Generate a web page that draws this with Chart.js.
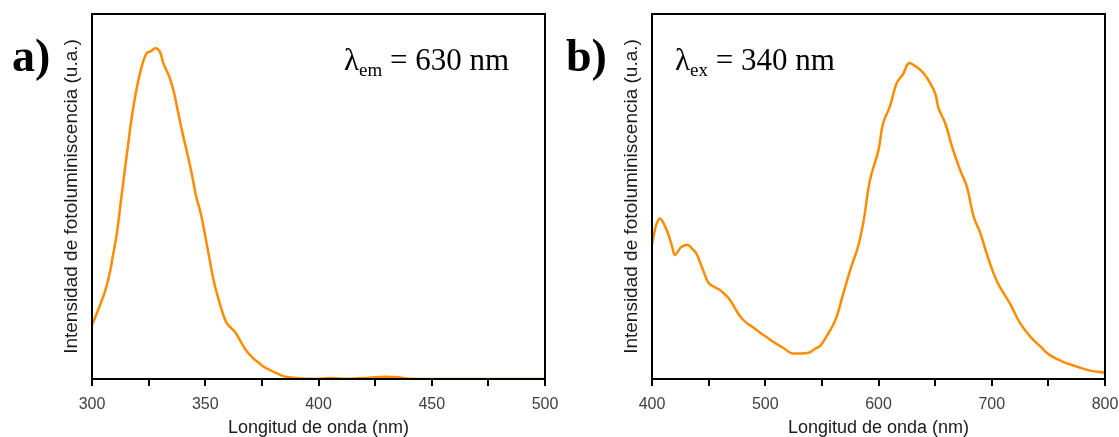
<!DOCTYPE html>
<html>
<head>
<meta charset="utf-8">
<script src="https://cdn.jsdelivr.net/npm/chart.js@4.4.1/dist/chart.umd.min.js"></script>
<style>
html,body{margin:0;padding:0;background:#fff;overflow:hidden}
#wrap{position:relative;width:1119px;height:437px}
.box{position:absolute;top:0;height:437px}
#boxA{left:0;width:560px}
#boxB{left:560px;width:559px}
</style>
</head>
<body>
<div id="wrap">
  <div class="box" id="boxA"><canvas id="cA"></canvas></div>
  <div class="box" id="boxB"><canvas id="cB"></canvas></div>
</div>
<script>
// ---- Data (a): emission at 630 nm, excitation spectrum ----
const emWavelength = [300,302,304,306,308,309,311,313,316,318,321,324,326,328,330,331.5,334,336,337.5,340,342,344,346,348,350.5,352,354,356.5,358,359.5,361,363,366,368,371,373.5,376,380,384.5,388,392,396,400,405,410,415,420,425,430,435,440,450,460,480,500];
const emIntensity  = [14.8,17.8,21,24.5,29.5,33,40,50,64.5,73.5,83.3,89.2,89.8,90.6,89.6,86.5,83,79,74.6,67.3,62,56.4,50,45.4,37.5,32.5,26.2,20.5,17.5,15.3,14.2,13,9.9,7.9,5.8,4.5,3.3,2.0,0.8,0.4,0.15,0.05,0.05,0.25,0.1,0.1,0.25,0.5,0.6,0.45,0.1,0,0,0,0];

// ---- Data (b): excitation at 340 nm, emission spectrum ----
const exWavelength = [400,402,404,407,410,414,418,420,423,425,428,432,436,439,443,445,450,455,460,465,469,474,479,484,490,495,501,508,516,523,530,537,541,545,548,554,562,569,576,582,587,592.5,600,604,610,616,622,626.5,631,637,643,650,653,659,665,672,678,684,690,695.5,701.5,707,716,725,734,743,751,763,775,787,800];
const exIntensity  = [37,40,42.5,44,42.8,40,36,34,35,35.9,36.5,36.7,35.5,34.5,31.5,29.9,26.3,25.2,24.4,23,21.6,19,16.7,15.3,14,12.8,11.5,10,8.5,7.1,7.0,7.1,7.6,8.5,8.9,11.6,16.2,23.5,30.8,36.3,43.6,54.5,62.7,70,74.6,81,83.7,86.5,86,84.7,82.4,78.3,74.2,70,63.6,57.3,52.7,44.5,39.9,34.4,29,25.3,20.7,15.3,11.6,8.9,6.6,4.7,3.4,2.3,1.7];

// ---- Axis ticks ----
const xTicksA = [300,350,400,450,500];
const xTicksB = [400,500,600,700,800];

const SANS = "'Liberation Sans', Arial, sans-serif";
const SERIF = "'Liberation Serif', 'Times New Roman', serif";
const LINE_COLOR = '#FF8C00';

const framePlugin = {
  id: 'frame',
  afterDatasetsDraw(chart) {
    const {ctx, chartArea: a} = chart;
    ctx.save();
    ctx.strokeStyle = '#000';
    ctx.lineWidth = 2;
    ctx.strokeRect(a.left, a.top, a.right - a.left, a.bottom - a.top);
    ctx.restore();
  }
};

function makeLabelPlugin(letter, letterX, lam, sub, rest, lamX) {
  return {
    id: 'labels',
    afterDraw(chart) {
      const ctx = chart.ctx;
      ctx.save();
      ctx.fillStyle = '#000';
      ctx.textBaseline = 'alphabetic';
      ctx.textAlign = 'left';
      ctx.font = 'bold 46px ' + SERIF;
      ctx.fillText(letter, letterX, 71);
      let x = lamX;
      ctx.font = '31px ' + SERIF;
      ctx.fillText(lam, x, 70);
      x += ctx.measureText(lam).width;
      ctx.font = '19px ' + SERIF;
      ctx.fillText(sub, x, 76);
      x += ctx.measureText(sub).width;
      ctx.font = '31px ' + SERIF;
      ctx.fillText(rest, x, 70);
      ctx.restore();
    }
  };
}

function makeChart(id, xs, ys, xmin, xmax, step, labelTicks, labelPlugin, rightPad) {
  const pts = xs.map((x, i) => ({x: x, y: ys[i]}));
  return new Chart(document.getElementById(id), {
    type: 'line',
    data: {
      datasets: [{
        data: pts,
        borderColor: LINE_COLOR,
        borderWidth: 2.5,
        pointRadius: 0,
        fill: false,
        tension: 0.4
      }]
    },
    options: {
      responsive: true,
      maintainAspectRatio: false,
      animation: false,
      devicePixelRatio: 1,
      layout: {padding: {top: 14, right: rightPad, bottom: 0, left: 0}},
      plugins: {legend: {display: false}, tooltip: {enabled: false}},
      scales: {
        x: {
          type: 'linear',
          min: xmin, max: xmax,
          afterFit: s => { s.height = 58; s.paddingLeft = 0; s.paddingRight = 0; },
          border: {display: false},
          grid: {display: true, drawOnChartArea: false, drawTicks: true, tickLength: 7, color: '#000', lineWidth: 2},
          ticks: {
            stepSize: step,
            autoSkip: false,
            maxRotation: 0,
            padding: 9,
            color: '#404040',
            font: {family: SANS, size: 16},
            callback: v => labelTicks.includes(v) ? String(v) : ''
          },
          title: {
            display: true,
            text: 'Longitud de onda (nm)',
            color: '#1a1a1a',
            font: {family: SANS, size: 18, lineHeight: 1},
            padding: {top: 0, bottom: 0}
          }
        },
        y: {
          min: 0, max: 100,
          afterFit: s => { s.width = 92; },
          border: {display: false},
          grid: {display: false},
          ticks: {display: false},
          title: {
            display: true,
            text: 'Intensidad de fotoluminiscencia (u.a.)',
            color: '#1a1a1a',
            font: {family: SANS, size: 19, lineHeight: 1.2},
            padding: {top: 60, bottom: 0}
          }
        }
      }
    },
    plugins: [framePlugin, labelPlugin]
  });
}

makeChart('cA', emWavelength, emIntensity, 300, 500, 25, xTicksA,
  makeLabelPlugin('a)', 12, 'λ', 'em', ' = 630 nm', 344), 15);
makeChart('cB', exWavelength, exIntensity, 400, 800, 50, xTicksB,
  makeLabelPlugin('b)', 6, 'λ', 'ex', ' = 340 nm', 115), 14);
</script>
</body>
</html>
